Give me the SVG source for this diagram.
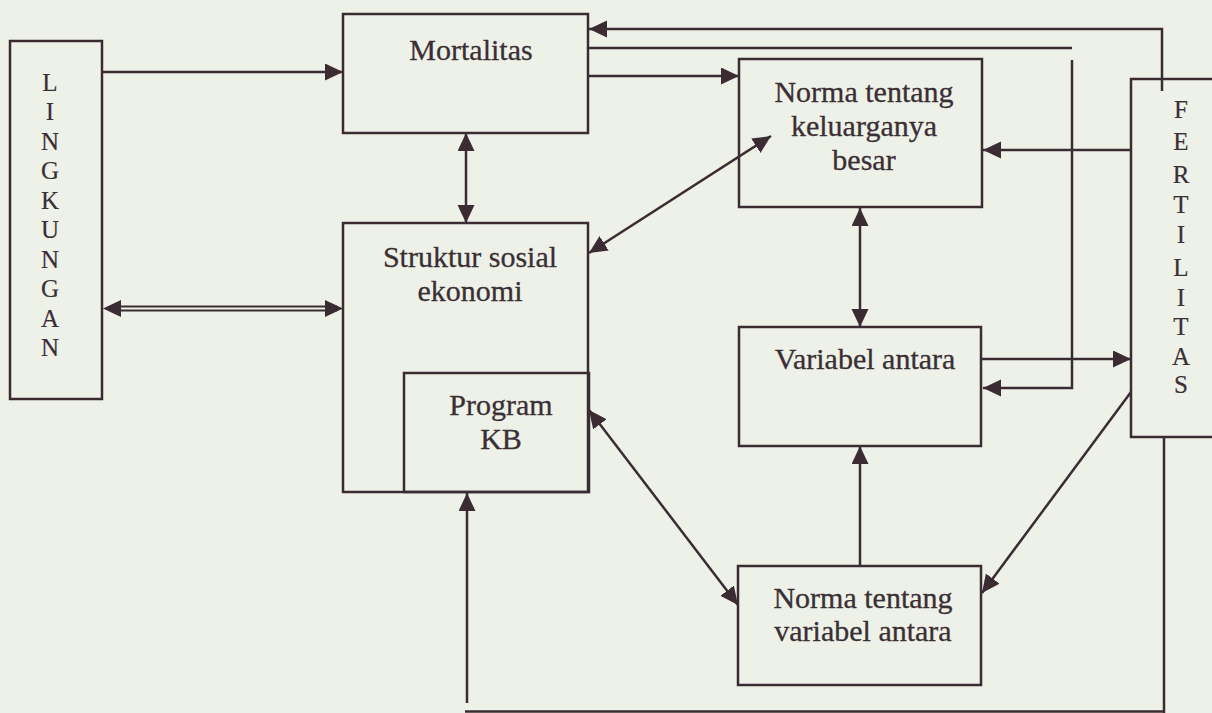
<svg xmlns="http://www.w3.org/2000/svg" width="1212" height="713" viewBox="0 0 1212 713">
<style>
.box{fill:none;stroke:#3b2c33;stroke-width:2.5}
.ln{fill:none;stroke:#3b2c33;stroke-width:2.5}
.t{font-family:"Liberation Serif","Times New Roman",serif;font-size:30px;fill:#3a2f35;stroke:#3a2f35;stroke-width:0.3;text-anchor:middle}
.v{font-family:"Liberation Serif","Times New Roman",serif;font-size:25px;fill:#3a2f35;stroke:#3a2f35;stroke-width:0.2;text-anchor:middle}
</style>
<defs>
<marker id="ah" markerUnits="userSpaceOnUse" markerWidth="19" markerHeight="18" refX="18" refY="8.5" orient="auto-start-reverse" viewBox="0 0 19 18">
<path d="M0,0 L18,8.5 L0,17 z" fill="#3b2c33"/>
</marker>
</defs>
<rect width="1212" height="713" fill="#eef1e8"/>

<g id="connectors">
<line class="ln" x1="102" y1="72" x2="343" y2="72" marker-end="url(#ah)"/>
<line class="ln" x1="110" y1="306.5" x2="337" y2="306.5" style="stroke-width:2"/>
<line class="ln" x1="110" y1="310.5" x2="337" y2="310.5" style="stroke-width:2"/>
<path d="M103,308.5 L343,308.5" fill="none" stroke="none" marker-start="url(#ah)" marker-end="url(#ah)"/>
<line class="ln" x1="466" y1="133" x2="466" y2="223" marker-start="url(#ah)" marker-end="url(#ah)"/>
<line class="ln" x1="588" y1="76" x2="739" y2="76" marker-end="url(#ah)"/>
<path class="ln" d="M1162,91 L1162,29 L589,29" marker-end="url(#ah)"/>
<path class="ln" d="M588,48 L1072,48"/>
<path class="ln" d="M1072,60 L1072,388 L983,388" marker-end="url(#ah)"/>
<line class="ln" x1="1131" y1="150" x2="983" y2="150" marker-end="url(#ah)"/>
<line class="ln" x1="771" y1="136" x2="589" y2="253" marker-start="url(#ah)" marker-end="url(#ah)"/>
<line class="ln" x1="860" y1="208" x2="860" y2="327" marker-start="url(#ah)" marker-end="url(#ah)"/>
<line class="ln" x1="981" y1="359" x2="1131" y2="359" marker-end="url(#ah)"/>
<line class="ln" x1="1131" y1="392" x2="982" y2="593" marker-end="url(#ah)"/>
<line class="ln" x1="589" y1="410" x2="738" y2="605" marker-start="url(#ah)" marker-end="url(#ah)"/>
<line class="ln" x1="860" y1="565" x2="860" y2="446" marker-end="url(#ah)"/>
<line class="ln" x1="1164" y1="437" x2="1164" y2="713"/>
<line class="ln" x1="465" y1="711.5" x2="1164" y2="711.5"/>
<line class="ln" x1="467" y1="703" x2="467" y2="493" marker-end="url(#ah)"/>
</g>

<g id="lingkungan">
<rect class="box" x="10" y="41" width="92" height="358"/>
<text class="v" x="50" y="91">L</text>
<text class="v" x="50" y="120">I</text>
<text class="v" x="50" y="150">N</text>
<text class="v" x="50" y="179">G</text>
<text class="v" x="50" y="209">K</text>
<text class="v" x="50" y="238">U</text>
<text class="v" x="50" y="268">N</text>
<text class="v" x="50" y="297">G</text>
<text class="v" x="50" y="327">A</text>
<text class="v" x="50" y="356">N</text>
</g>

<g id="mortalitas">
<rect class="box" x="343" y="14" width="245" height="119"/>
<text class="t" x="471" y="60">Mortalitas</text>
</g>

<g id="struktur">
<rect class="box" x="343" y="223" width="245" height="269"/>
<text class="t" x="470" y="267">Struktur sosial</text>
<text class="t" x="470" y="301">ekonomi</text>
</g>

<g id="program-kb">
<rect class="box" x="404" y="373" width="185" height="119"/>
<text class="t" x="501" y="415">Program</text>
<text class="t" x="501" y="449">KB</text>
</g>

<g id="norma-keluarga">
<rect class="box" x="739" y="59" width="243" height="148"/>
<text class="t" x="864" y="102">Norma tentang</text>
<text class="t" x="864" y="136">keluarganya</text>
<text class="t" x="864" y="170">besar</text>
</g>

<g id="variabel-antara">
<rect class="box" x="739" y="327" width="242" height="119"/>
<text class="t" x="865" y="369">Variabel antara</text>
</g>

<g id="norma-variabel">
<rect class="box" x="738" y="566" width="243" height="119"/>
<text class="t" x="863" y="608">Norma tentang</text>
<text class="t" x="863" y="641">variabel antara</text>
</g>

<g id="fertilitas">
<path class="box" d="M1222,79 L1131,79 L1131,437 L1222,437"/>
<text class="v" x="1181" y="118">F</text>
<text class="v" x="1181" y="150">E</text>
<text class="v" x="1181" y="183">R</text>
<text class="v" x="1181" y="213">T</text>
<text class="v" x="1181" y="243">I</text>
<text class="v" x="1181" y="276">L</text>
<text class="v" x="1181" y="306">I</text>
<text class="v" x="1181" y="335">T</text>
<text class="v" x="1181" y="365">A</text>
<text class="v" x="1181" y="393">S</text>
</g>
</svg>
